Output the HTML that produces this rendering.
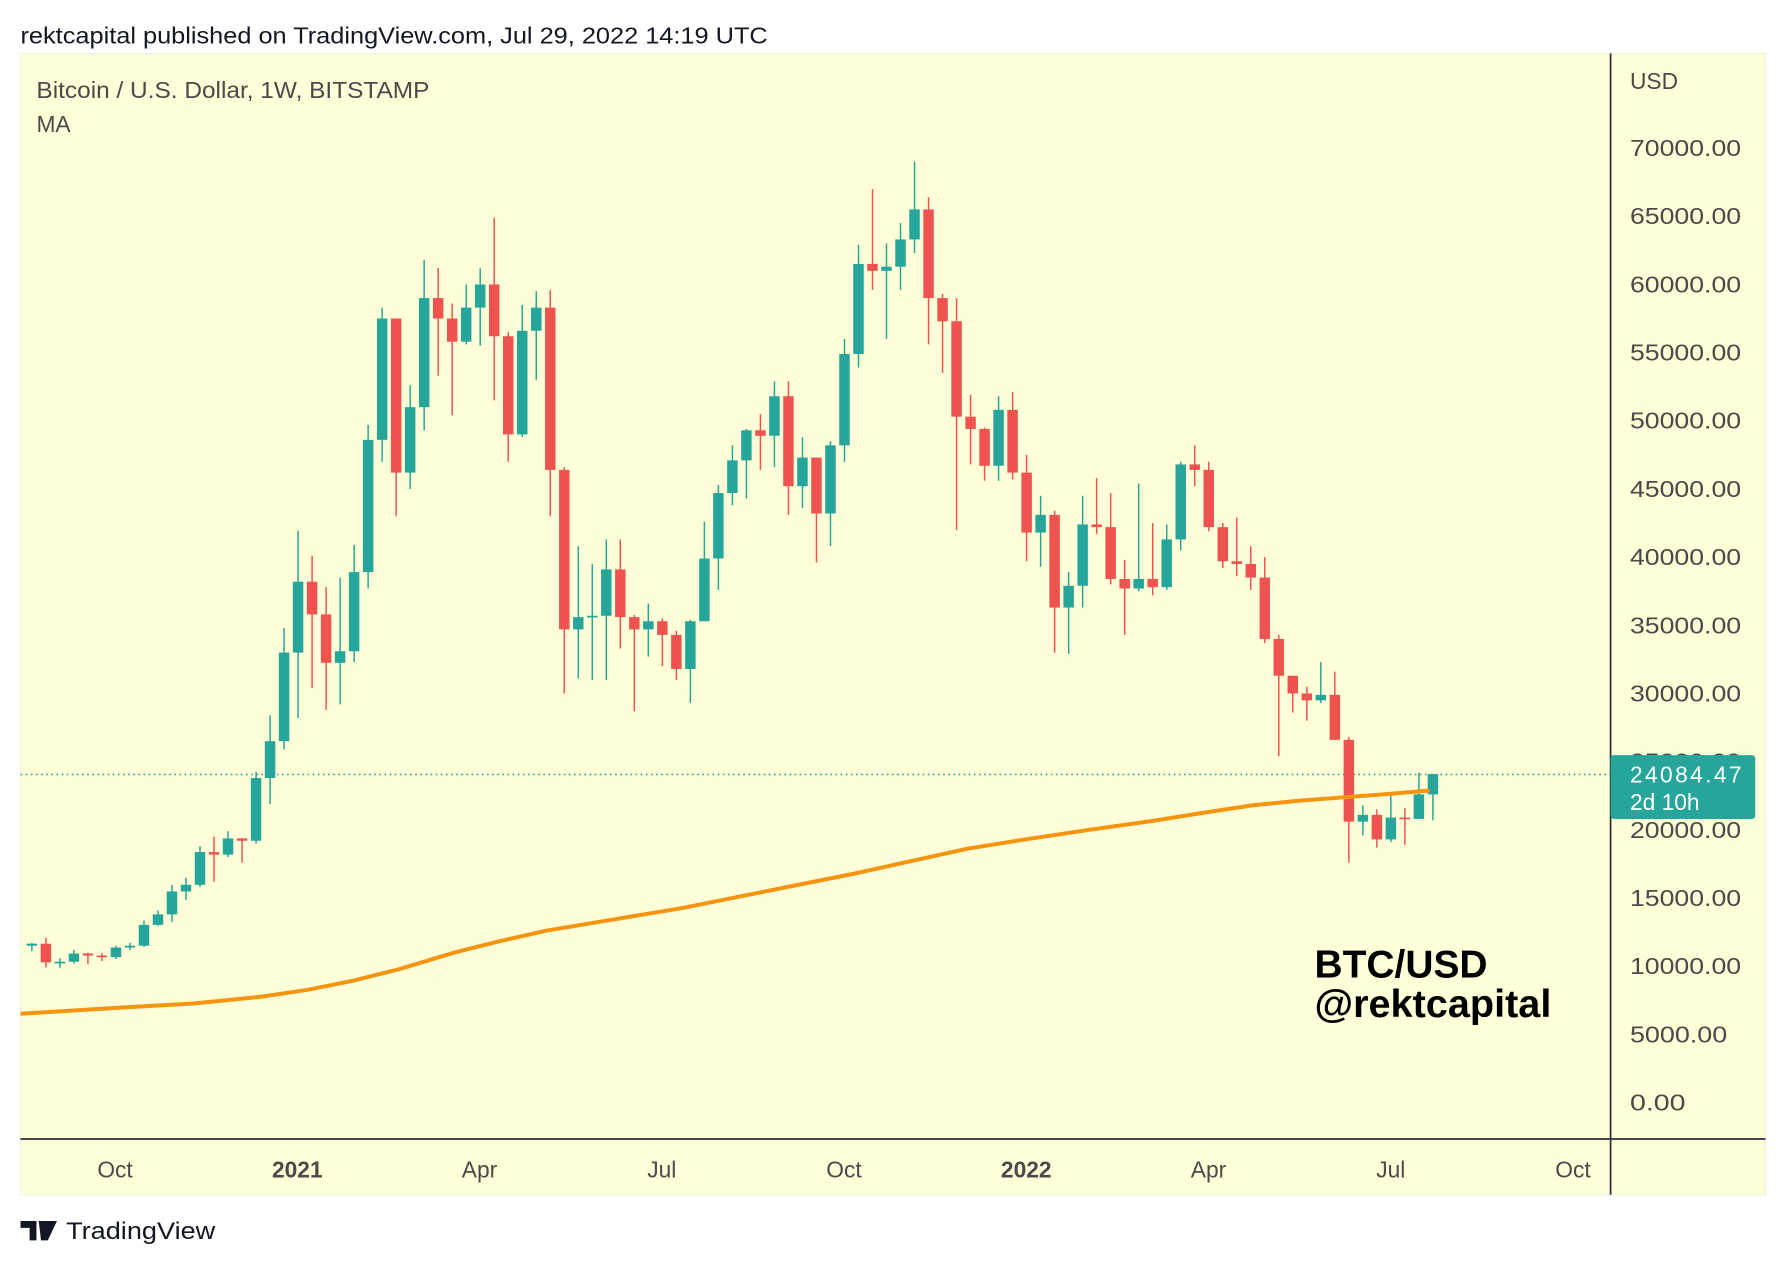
<!DOCTYPE html>
<html><head><meta charset="utf-8"><style>
html,body{margin:0;padding:0;background:#fff;width:1786px;height:1266px;overflow:hidden}
svg{display:block}
text{font-family:"Liberation Sans",sans-serif}
</style></head><body>
<svg id="s" width="1786" height="1266" viewBox="0 0 1568 1111.5" preserveAspectRatio="none" xmlns="http://www.w3.org/2000/svg">
<rect x="0" y="0" width="1568" height="1111.5" fill="#fff"/>
<text x="18" y="38" font-size="20" fill="#131722" textLength="656" lengthAdjust="spacingAndGlyphs">rektcapital published on TradingView.com, Jul 29, 2022 14:19 UTC</text>
<rect x="18" y="47" width="1532" height="1002" fill="#fefed8" stroke="#f0f0e0"/>
<defs><clipPath id="c"><rect x="18" y="47" width="1396" height="953"/></clipPath></defs>
<line x1="18" y1="680" x2="1414" y2="680" stroke="#26a69a" stroke-width="1.3" stroke-dasharray="1.5,3"/>
<g id="candles" clip-path="url(#c)"></g>
<polyline clip-path="url(#c)" fill="none" stroke="#f7940f" stroke-width="3.5" stroke-linejoin="round" points="18,890 100,885 170,881 230,875 270,869 310,861 350,851 400,836 440,826 480,817 540,807 600,797 640,789 700,777 750,767 800,756 850,745 900,737 960,728 1010,721 1060,713 1100,707 1140,703 1180,700 1220,697 1255,694"/>
<line x1="1414" y1="47" x2="1414" y2="1049" stroke="#2a2e39" stroke-width="1.5"/>
<line x1="18" y1="1000" x2="1550" y2="1000" stroke="#2a2e39" stroke-width="1.5"/>
<text x="32" y="86" font-size="20" fill="#4a4a4a" textLength="345" lengthAdjust="spacingAndGlyphs">Bitcoin / U.S. Dollar, 1W, BITSTAMP</text>
<text x="32" y="116" font-size="20" fill="#4a4a4a">MA</text>
<text x="1431" y="78" font-size="20" fill="#4a4a4a">USD</text>
<g id="ylab" font-size="20" fill="#4a4a4a"></g>
<rect x="1414" y="663" width="127" height="56" rx="3" fill="#26a69a"/>
<text x="1431" y="687" font-size="20" fill="#fff" textLength="98">24084.47</text>
<text x="1431" y="711" font-size="20" fill="#fff">2d 10h</text>
<g font-size="20" fill="#4a4a4a" text-anchor="middle">
<text x="101" y="1034">Oct</text><text x="261" y="1034" font-weight="bold">2021</text><text x="421" y="1034">Apr</text><text x="581" y="1034">Jul</text><text x="741" y="1034">Oct</text><text x="901" y="1034" font-weight="bold">2022</text><text x="1061" y="1034">Apr</text><text x="1221" y="1034">Jul</text><text x="1381" y="1034">Oct</text>
</g>
<text x="1154" y="858" font-size="34" font-weight="bold" fill="#000" textLength="152" lengthAdjust="spacingAndGlyphs">BTC/USD</text>
<text x="1154" y="893" font-size="34" font-weight="bold" fill="#000" textLength="208" lengthAdjust="spacingAndGlyphs">@rektcapital</text>
<path d="M18,1072 h14 v17 h-6 v-11 h-8z M34,1072 h16 l-8,17 h-6z" fill="#131722"/>
<text x="58" y="1088" font-size="21" fill="#131722" textLength="131" lengthAdjust="spacingAndGlyphs">TradingView</text>
</svg>
<script>
var d=[[11500,11700,11100,11650],[11650,12080,9900,10280],[10280,10580,9880,10330],[10330,11180,10200,10930],[10930,11000,10150,10780],[10780,10950,10380,10670],[10670,11500,10530,11370],[11370,11720,11200,11500],[11500,13350,11420,13030],[13030,14090,12950,13800],[13800,15960,13250,15480],[15480,16490,14860,15970],[15970,18800,15800,18370],[18370,19500,16200,18180],[18180,19900,18000,19370],[19370,19400,17600,19200],[19200,24250,19000,23800],[23800,28400,21900,26500],[26500,34800,25900,33000],
[33000,41950,28200,38200],[38200,40100,30400,35800],[35800,37800,28800,32250],[32250,38500,29200,33100],[33100,40900,32300,38900],[38900,49700,37700,48600],[48600,58300,47000,57500],[57500,57500,43000,46200],[46200,52600,45000,51000],[51000,61800,49300,59000],[59000,61200,53300,57500],[57500,58600,50400,55800],[55800,60000,55600,58300],[58300,61200,55500,60000],[60000,64900,51500,56200],[56200,56500,47000,49000],[49000,58500,48800,56600],[56600,59500,53000,58300],[58300,59600,43000,46400],[46400,46600,30000,34700],[34700,40800,31100,35600],[35600,39500,31000,35700],[35700,41300,31000,39100],[39100,41300,33300,35600],[35600,35750,28700,34700],[34700,36600,32700,35300],[35300,35500,32000,34300],[34300,34600,31000,31800],[31800,35400,29300,35300],[35300,42600,35300,39900],[39900,45300,37600,44700],[44700,48200,43800,47100],[47100,49400,44300,49300],[49300,50500,46400,48900],[48900,52900,46600,51800],[51800,52900,43100,45200],[45200,48800,43600,47300],[47300,47300,39600,43200],[43200,48500,40800,48200],[48200,56000,47000,54900],[54900,62900,53900,61500],[61500,67000,59600,61000],[61000,63000,56000,61300],[61300,64500,59600,63300],[63300,69000,62300,65500],[65500,66400,55600,59000],[59000,59300,53500,57300],[57300,59000,42000,50300],[50300,51900,46800,49400],[49400,49500,45600,46700],[46700,51800,45600,50800],[50800,52100,45700,46200],
[46200,47500,39700,41800],[41800,44500,39300,43100],[43100,43400,33000,36300],[36300,38900,32900,37900],[37900,44500,36300,42400],[42400,45800,41700,42200],[42200,44700,38000,38400],[38400,39800,34300,37700],[37700,45400,37500,38400],[38400,42500,37200,37800],[37800,42400,37600,41300],[41300,47000,40500,46800],[46800,48200,45200,46400],[46400,47000,41900,42200],[42200,42500,39200,39700],[39700,42900,38600,39500],[39500,40800,37600,38500],[38500,40000,33700,34000],[34000,34300,25400,31300],[31300,31300,28600,30000],[30000,30500,28000,29500],[29500,32300,29300,29900],[29900,31600,26600,26600],[26600,26800,17600,20600],[20600,21800,19600,21100],[21100,21500,18700,19300],[19300,22500,19100,20900],[20900,21600,18900,20800],[20800,24200,20800,22600],[22600,24100,20700,24084]];
function Y(p){return 968-p*838/70000}
var n=d.length,h='';
for(var i=0;i<n;i++){var x=1258-(n-1-i)*12.3,o=d[i][0],c=d[i][3];var col=c>=o?'#26a69a':'#ef5350';
var t=Y(Math.max(o,c)),b=Y(Math.min(o,c));if(b-t<1.5){b=t+1.5}
h+='<line x1="'+x+'" x2="'+x+'" y1="'+Y(d[i][1])+'" y2="'+Y(d[i][2])+'" stroke="'+col+'" stroke-width="1.3"/>';
h+='<rect x="'+(x-4.6)+'" y="'+t+'" width="9.2" height="'+(b-t)+'" fill="'+col+'"/>';}
document.getElementById('candles').innerHTML=h;
var g='';for(var v=0;v<=70000;v+=5000){var s=v+'.00';g+='<text x="1431" y="'+(Y(v)+7)+'" textLength="'+(s.length*12.2)+'" lengthAdjust="spacingAndGlyphs">'+s+'</text>'}
document.getElementById('ylab').innerHTML=g;
</script>
</body></html>
